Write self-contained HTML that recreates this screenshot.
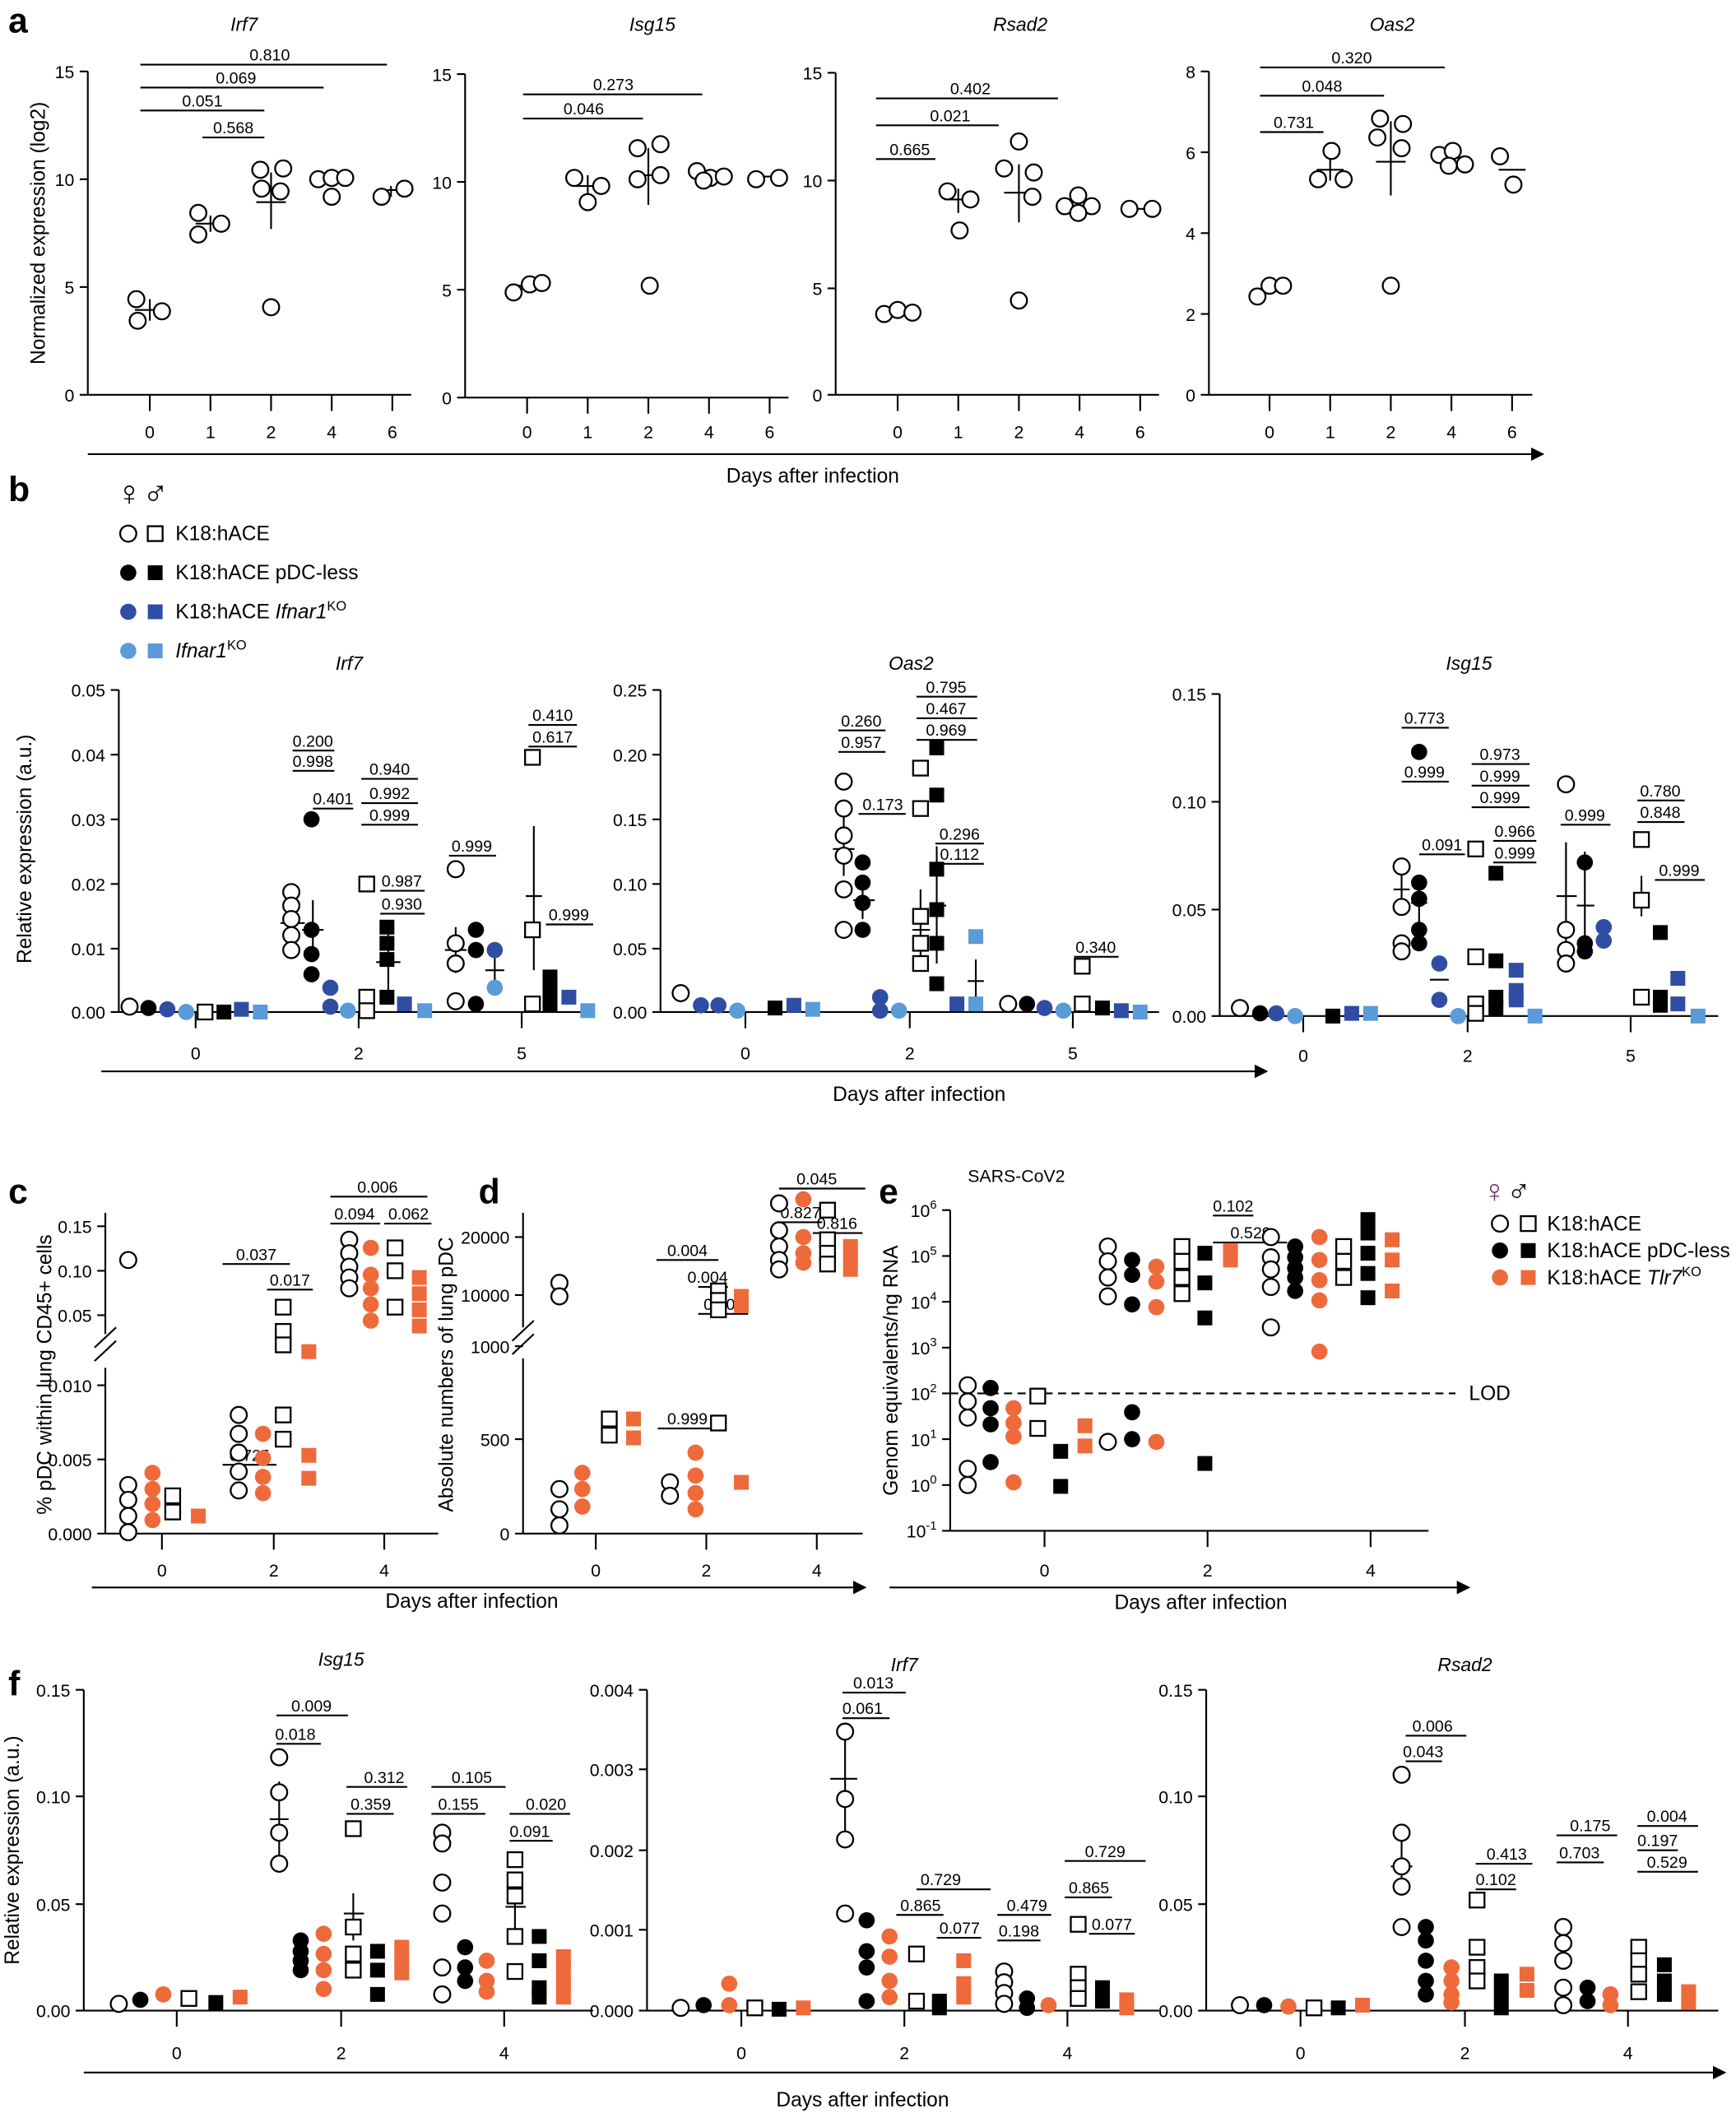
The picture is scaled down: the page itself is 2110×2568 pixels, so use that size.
<!DOCTYPE html>
<html><head><meta charset="utf-8"><style>
html,body{margin:0;padding:0;background:#fff}
svg{display:block}
text{font-family:"Liberation Sans",Arial,sans-serif;fill:#000}
.t{font-size:13px}
.s{font-size:12px}
.it{font-size:14px;font-style:italic}
.lab{font-size:15px}
.big{font-size:26px;font-weight:bold}
</style></head><body>
<svg width="2110" height="2568" viewBox="0 0 1288 1568" xmlns="http://www.w3.org/2000/svg">
<defs>
<circle id="oc" r="6" fill="#fff" stroke="#000" stroke-width="1.4"/>
<circle id="bc" r="6" fill="#000"/>
<circle id="orc" r="6" fill="#ee6a3b"/>
<circle id="dbc" r="6" fill="#2f4ea3"/>
<circle id="lbc" r="6" fill="#5a9bd8"/>
<rect id="os" x="-5.5" y="-5.5" width="11" height="11" fill="#fff" stroke="#000" stroke-width="1.4"/>
<rect id="bs" x="-5.5" y="-5.5" width="11" height="11" fill="#000"/>
<rect id="ors" x="-5.5" y="-5.5" width="11" height="11" fill="#ee6a3b"/>
<rect id="dbs" x="-5.5" y="-5.5" width="11" height="11" fill="#2f4ea3"/>
<rect id="lbs" x="-5.5" y="-5.5" width="11" height="11" fill="#5a9bd8"/>
<marker id="ar" markerWidth="10" markerHeight="10" refX="9" refY="5" orient="auto" markerUnits="userSpaceOnUse"><path d="M0,0 L10,5 L0,10 z" fill="#000"/></marker>
</defs>
<g stroke="#000" stroke-width="1.3" fill="none">
<!-- panel a axes -->
<path d="M65,53V293 M59,53H65 M59,133H65 M59,213H65 M59,293H305 M111,293v12 M156,293v12 M201,293v12 M246,293v12 M291,293v12"/>
<path d="M345,55V295 M339,55H345 M339,135H345 M339,215H345 M339,295H585 M391,295v12 M436,295v12 M481,295v12 M526,295v12 M571,295v12"/>
<path d="M620,54V293 M614,54H620 M614,134H620 M614,214H620 M614,293H860 M666,293v12 M711,293v12 M756,293v12 M801,293v12 M846,293v12"/>
<path d="M897,53V293 M891,53H897 M891,113H897 M891,173H897 M891,233H897 M891,293H1137 M942,293v12 M987,293v12 M1032,293v12 M1077,293v12 M1122,293v12"/>
<path d="M65,337H1145" marker-end="url(#ar)"/>
<!-- sig a -->
<path d="M104,48H287 M104,65H240 M104,82H196 M150,102H196 M388,70H521 M388,88H477 M650,73H785 M650,93H741 M650,118H694 M935,50H1072 M935,71H1027 M935,98H982"/>
<!-- panel b axes -->
<path d="M88,512V751 M82,512H88 M82,560H88 M82,608H88 M82,656H88 M82,704H88 M82,751H440 M145,751v12 M266,751v12 M387,751v12"/>
<path d="M490,512V751 M484,512H490 M484,560H490 M484,608H490 M484,656H490 M484,704H490 M484,751H860 M553,751v12 M675,751v12 M796,751v12"/>
<path d="M905,515V754 M899,515H905 M899,595H905 M899,675H905 M899,754H1275 M967,754v12 M1089,754v12 M1210,754v12"/>
<path d="M75,795H940" marker-end="url(#ar)"/>
<path d="M217,557H248 M217,572H248 M232,600H262 M268,578H310 M268,596H310 M268,612H310 M282,661H315 M282,678H315 M333,635H368 M392,538H428 M392,554H428 M405,686H440"/>
<path d="M622,542H657 M622,558H657 M637,604H672 M680,517H725 M680,533H725 M680,549H725 M694,626H730 M694,641H730 M797,710H830"/>
<path d="M1040,540H1075 M1040,580H1075 M1053,634H1087 M1092,567H1135 M1092,583H1135 M1092,599H1135 M1108,624H1140 M1108,640H1140 M1158,612H1195 M1215,594H1250 M1215,610H1250 M1228,653H1265"/>
<!-- panel c -->
<path d="M78,900V990 M78,1015V1138 M72,910H78 M72,943H78 M72,976H78 M72,1028H78 M72,1083H78 M72,1138H325 M70,1000L86,985 M70,1010L86,995 M120,1138v12 M203,1138v12 M285,1138v12"/>
<path d="M68,1178H642" marker-end="url(#ar)"/>
<path d="M165,938H215 M198,957H232 M165,1087H205 M245,888H317 M245,908H282 M285,908H320"/>
<!-- panel d -->
<path d="M388,900V985 M388,1008V1138 M382,918H388 M382,961H388 M382,999H388 M382,1068H388 M382,1138H640 M380,995L396,980 M380,1005L396,990 M442,1138v12 M524,1138v12 M606,1138v12"/>
<path d="M578,882H642 M487,935H533 M578,907H610 M518,955H540 M518,975H555 M603,915H640 M488,1060H538"/>
<!-- panel e -->
<path d="M705,898V1136 M699,898H705 M699,932H705 M699,966H705 M699,1000H705 M699,1034H705 M699,1068H705 M699,1102H705 M699,1136H1060 M775,1136v12 M896,1136v12 M1017,1136v12"/>
<path d="M660,1178H1090" marker-end="url(#ar)"/>
<path d="M900,902H930 M900,922H955"/>
<path d="M705,1034H1080" stroke-dasharray="6,4"/>
<!-- panel f -->
<path d="M62,1254V1492 M56,1254H62 M56,1333H62 M56,1413H62 M56,1492H440 M131,1492v12 M253,1492v12 M374,1492v12"/>
<path d="M480,1254V1492 M474,1254H480 M474,1313H480 M474,1373H480 M474,1432H480 M474,1492H860 M550,1492v12 M671,1492v12 M792,1492v12"/>
<path d="M895,1254V1492 M889,1254H895 M889,1333H895 M889,1413H895 M889,1492H1275 M965,1492v12 M1087,1492v12 M1208,1492v12"/>
<path d="M62,1538H1280" marker-end="url(#ar)"/>
<path d="M205,1273H258 M205,1294H238 M257,1326H302 M257,1346H292 M320,1326H375 M320,1346H360 M378,1346H423 M378,1366H410"/>
<path d="M625,1256H672 M625,1275H660 M680,1402H735 M665,1421H700 M695,1438H728 M740,1421H780 M740,1440H772 M790,1381H850 M790,1408H825 M808,1435H842"/>
<path d="M1043,1288H1088 M1043,1307H1070 M1095,1383H1137 M1095,1402H1125 M1155,1362H1200 M1155,1382H1190 M1215,1355H1260 M1215,1373H1245 M1215,1389H1260"/>
<!-- mean/error bars -->
<path d="M100,230H122 M111,222V238 M145,166H167 M156,160V172 M190,150H212 M201,128V170 M236,133H256 M280,141H300 M290,138V146"/>
<path d="M381,212H401 M426,138H446 M436,130V146 M470,130H492 M481,110V152 M516,129H536 M561,131H581"/>
<path d="M656,232H676 M701,148H721 M711,140V158 M745,143H767 M756,122V165 M790,150H810 M835,155H855"/>
<path d="M931,215H951 M977,126H997 M987,118V134 M1021,120H1043 M1032,90V145 M1067,117H1087 M1112,126H1132"/>
<path d="M208,685H226 M217,665V705 M224,690H240 M232,668V712 M279,714H297 M288,690V735 M390,665H402 M396,613V720 M330,705H346 M338,688V722 M360,720H374 M367,710V730"/>
<path d="M618,630H634 M626,605V650 M633,668H649 M640,655V682 M677,690H690 M683,660V715 M690,672H702 M695,628V715 M718,728H730 M724,712V745"/>
<path d="M1034,660H1046 M1040,640V675 M1047,670H1059 M1053,650V690 M1061,727H1075 M1212,665H1224 M1218,650V680 M1155,665H1170 M1162,625V705 M1170,672H1183 M1176,632V705"/>
<path d="M200,1350H214 M207,1322V1380 M616,1320H636 M627,1285V1360 M1032,1385H1048 M1040,1362V1400 M255,1420H270 M262,1405V1440 M375,1415H390 M382,1395V1440"/>
</g>
<!-- panel letters -->
<text x="6" y="24" class="big">a</text>
<text x="6" y="372" class="big">b</text>
<text x="6" y="893" class="big">c</text>
<text x="355" y="893" class="big">d</text>
<text x="652" y="893" class="big">e</text>
<text x="6" y="1258" class="big">f</text>
<!-- panel a text -->
<text x="181" y="23" class="it" text-anchor="middle">Irf7</text>
<text x="484" y="23" class="it" text-anchor="middle">Isg15</text>
<text x="757" y="23" class="it" text-anchor="middle">Rsad2</text>
<text x="1033" y="23" class="it" text-anchor="middle">Oas2</text>
<text transform="translate(33,173) rotate(-90)" class="lab" text-anchor="middle">Normalized expression (log2)</text>
<g class="t" text-anchor="end">
<text x="55" y="58">15</text><text x="55" y="138">10</text><text x="55" y="218">5</text><text x="55" y="298">0</text>
<text x="335" y="60">15</text><text x="335" y="140">10</text><text x="335" y="220">5</text><text x="335" y="300">0</text>
<text x="610" y="59">15</text><text x="610" y="139">10</text><text x="610" y="219">5</text><text x="610" y="298">0</text>
<text x="887" y="58">8</text><text x="887" y="118">6</text><text x="887" y="178">4</text><text x="887" y="238">2</text><text x="887" y="298">0</text>
</g>
<g class="t" text-anchor="middle">
<text x="111" y="325">0</text><text x="156" y="325">1</text><text x="201" y="325">2</text><text x="246" y="325">4</text><text x="291" y="325">6</text>
<text x="391" y="325">0</text><text x="436" y="325">1</text><text x="481" y="325">2</text><text x="526" y="325">4</text><text x="571" y="325">6</text>
<text x="666" y="325">0</text><text x="711" y="325">1</text><text x="756" y="325">2</text><text x="801" y="325">4</text><text x="846" y="325">6</text>
<text x="942" y="325">0</text><text x="987" y="325">1</text><text x="1032" y="325">2</text><text x="1077" y="325">4</text><text x="1122" y="325">6</text>
<text x="603" y="358" class="lab">Days after infection</text>
</g>
<g class="s" text-anchor="middle">
<text x="200" y="45">0.810</text><text x="175" y="62">0.069</text><text x="150" y="79">0.051</text><text x="173" y="99">0.568</text>
<text x="455" y="67">0.273</text><text x="433" y="85">0.046</text>
<text x="720" y="70">0.402</text><text x="705" y="90">0.021</text><text x="675" y="115">0.665</text>
<text x="1003" y="47">0.320</text><text x="981" y="68">0.048</text><text x="960" y="95">0.731</text>
</g>
<!-- panel a points -->
<use href="#oc" x="101" y="222"/><use href="#oc" x="102" y="238"/><use href="#oc" x="120" y="231"/>
<use href="#oc" x="147" y="158"/><use href="#oc" x="147" y="174"/><use href="#oc" x="164" y="166"/>
<use href="#oc" x="193" y="126"/><use href="#oc" x="210" y="125"/><use href="#oc" x="208" y="142"/><use href="#oc" x="201" y="228"/><use href="#oc" x="194" y="140"/>
<use href="#oc" x="236" y="133"/><use href="#oc" x="246" y="132"/><use href="#oc" x="256" y="132"/><use href="#oc" x="246" y="146"/>
<use href="#oc" x="283" y="146"/><use href="#oc" x="300" y="140"/>
<use href="#oc" x="381" y="217"/><use href="#oc" x="393" y="211"/><use href="#oc" x="402" y="210"/>
<use href="#oc" x="426" y="132"/><use href="#oc" x="436" y="150"/><use href="#oc" x="446" y="138"/>
<use href="#oc" x="473" y="110"/><use href="#oc" x="490" y="107"/><use href="#oc" x="473" y="133"/><use href="#oc" x="490" y="130"/><use href="#oc" x="482" y="212"/>
<use href="#oc" x="517" y="127"/><use href="#oc" x="527" y="132"/><use href="#oc" x="537" y="131"/><use href="#oc" x="522" y="134"/>
<use href="#oc" x="561" y="133"/><use href="#oc" x="578" y="132"/>
<use href="#oc" x="656" y="233"/><use href="#oc" x="666" y="230"/><use href="#oc" x="677" y="232"/>
<use href="#oc" x="703" y="142"/><use href="#oc" x="712" y="171"/><use href="#oc" x="720" y="148"/>
<use href="#oc" x="745" y="125"/><use href="#oc" x="756" y="105"/><use href="#oc" x="767" y="128"/><use href="#oc" x="766" y="146"/><use href="#oc" x="756" y="223"/>
<use href="#oc" x="790" y="153"/><use href="#oc" x="800" y="145"/><use href="#oc" x="810" y="153"/><use href="#oc" x="800" y="158"/>
<use href="#oc" x="838" y="155"/><use href="#oc" x="855" y="155"/>
<use href="#oc" x="933" y="220"/><use href="#oc" x="942" y="212"/><use href="#oc" x="952" y="212"/>
<use href="#oc" x="978" y="133"/><use href="#oc" x="988" y="112"/><use href="#oc" x="997" y="133"/>
<use href="#oc" x="1024" y="88"/><use href="#oc" x="1041" y="92"/><use href="#oc" x="1022" y="102"/><use href="#oc" x="1040" y="110"/><use href="#oc" x="1032" y="212"/>
<use href="#oc" x="1068" y="115"/><use href="#oc" x="1078" y="112"/><use href="#oc" x="1087" y="122"/><use href="#oc" x="1075" y="123"/>
<use href="#oc" x="1113" y="116"/><use href="#oc" x="1123" y="137"/>
<!-- panel b legend -->
<text x="86" y="375" style="font-size:26px">♀♂</text>
<use href="#oc" x="95" y="396"/><use href="#os" x="115" y="396"/><text x="130" y="401" class="lab">K18:hACE</text>
<use href="#bc" x="95" y="425"/><use href="#bs" x="115" y="425"/><text x="130" y="430" class="lab">K18:hACE pDC-less</text>
<use href="#dbc" x="95" y="454"/><use href="#dbs" x="115" y="454"/><text x="130" y="459" class="lab">K18:hACE <tspan font-style="italic">Ifnar1</tspan><tspan font-size="10" dy="-6">KO</tspan></text>
<use href="#lbc" x="95" y="483"/><use href="#lbs" x="115" y="483"/><text x="130" y="488" class="lab"><tspan font-style="italic">Ifnar1</tspan><tspan font-size="10" dy="-6">KO</tspan></text>
<text x="259" y="497" class="it" text-anchor="middle">Irf7</text>
<text x="676" y="497" class="it" text-anchor="middle">Oas2</text>
<text x="1090" y="497" class="it" text-anchor="middle">Isg15</text>
<text transform="translate(23,630) rotate(-90)" class="lab" text-anchor="middle">Relative expression (a.u.)</text>
<g class="t" text-anchor="end">
<text x="78" y="517">0.05</text><text x="78" y="565">0.04</text><text x="78" y="613">0.03</text><text x="78" y="661">0.02</text><text x="78" y="709">0.01</text><text x="78" y="756">0.00</text>
<text x="480" y="517">0.25</text><text x="480" y="565">0.20</text><text x="480" y="613">0.15</text><text x="480" y="661">0.10</text><text x="480" y="709">0.05</text><text x="480" y="756">0.00</text>
<text x="895" y="520">0.15</text><text x="895" y="600">0.10</text><text x="895" y="680">0.05</text><text x="895" y="759">0.00</text>
</g>
<g class="t" text-anchor="middle">
<text x="145" y="786">0</text><text x="266" y="786">2</text><text x="387" y="786">5</text>
<text x="553" y="786">0</text><text x="675" y="786">2</text><text x="796" y="786">5</text>
<text x="967" y="788">0</text><text x="1089" y="788">2</text><text x="1210" y="788">5</text>
<text x="682" y="817" class="lab">Days after infection</text>
</g>
<g class="s" text-anchor="middle">
<text x="232" y="554">0.200</text><text x="232" y="569">0.998</text><text x="247" y="597">0.401</text><text x="289" y="575">0.940</text><text x="289" y="593">0.992</text><text x="289" y="609">0.999</text><text x="298" y="658">0.987</text><text x="298" y="675">0.930</text><text x="350" y="632">0.999</text><text x="410" y="535">0.410</text><text x="410" y="551">0.617</text><text x="422" y="683">0.999</text>
<text x="639" y="539">0.260</text><text x="639" y="555">0.957</text><text x="655" y="601">0.173</text><text x="702" y="514">0.795</text><text x="702" y="530">0.467</text><text x="702" y="546">0.969</text><text x="712" y="623">0.296</text><text x="712" y="638">0.112</text><text x="813" y="707">0.340</text>
<text x="1057" y="537">0.773</text><text x="1057" y="577">0.999</text><text x="1070" y="631">0.091</text><text x="1113" y="564">0.973</text><text x="1113" y="580">0.999</text><text x="1113" y="596">0.999</text><text x="1124" y="621">0.966</text><text x="1124" y="637">0.999</text><text x="1176" y="609">0.999</text><text x="1232" y="591">0.780</text><text x="1232" y="607">0.848</text><text x="1246" y="650">0.999</text>
</g>
<!-- b1 points -->
<use href="#oc" x="96" y="747"/><use href="#bc" x="110" y="748"/><use href="#dbc" x="124" y="749"/><use href="#lbc" x="138" y="751"/><use href="#os" x="152" y="751"/><use href="#bs" x="166" y="751"/><use href="#dbs" x="179" y="749"/><use href="#lbs" x="193" y="751"/>
<use href="#oc" x="216" y="662"/><use href="#oc" x="216" y="672"/><use href="#oc" x="216" y="682"/><use href="#oc" x="216" y="694"/><use href="#oc" x="216" y="705"/>
<use href="#bc" x="231" y="608"/><use href="#bc" x="231" y="690"/><use href="#bc" x="231" y="708"/><use href="#bc" x="231" y="723"/>
<use href="#dbc" x="245" y="733"/><use href="#dbc" x="245" y="747"/><use href="#lbc" x="258" y="750"/>
<use href="#os" x="272" y="656"/><use href="#os" x="272" y="740"/><use href="#os" x="272" y="750"/>
<use href="#bs" x="287" y="688"/><use href="#bs" x="287" y="700"/><use href="#bs" x="287" y="712"/><use href="#bs" x="287" y="740"/>
<use href="#dbs" x="300" y="745"/><use href="#lbs" x="315" y="750"/>
<use href="#oc" x="338" y="645"/><use href="#oc" x="338" y="700"/><use href="#oc" x="338" y="715"/><use href="#oc" x="338" y="743"/>
<use href="#bc" x="353" y="690"/><use href="#bc" x="353" y="705"/><use href="#bc" x="353" y="745"/>
<use href="#dbc" x="367" y="705"/><use href="#lbc" x="367" y="733"/>
<use href="#os" x="395" y="562"/><use href="#os" x="395" y="690"/><use href="#os" x="395" y="745"/>
<use href="#bs" x="408" y="725"/><use href="#bs" x="408" y="735"/><use href="#bs" x="408" y="745"/>
<use href="#dbs" x="422" y="740"/><use href="#lbs" x="436" y="750"/>
<!-- b2 points -->
<use href="#oc" x="505" y="737"/><use href="#dbc" x="520" y="746"/><use href="#dbc" x="533" y="746"/><use href="#lbc" x="547" y="750"/><use href="#bs" x="575" y="748"/><use href="#dbs" x="589" y="746"/><use href="#lbs" x="603" y="749"/>
<use href="#oc" x="626" y="580"/><use href="#oc" x="626" y="600"/><use href="#oc" x="626" y="620"/><use href="#oc" x="626" y="635"/><use href="#oc" x="626" y="660"/><use href="#oc" x="626" y="690"/>
<use href="#bc" x="640" y="640"/><use href="#bc" x="640" y="655"/><use href="#bc" x="640" y="670"/><use href="#bc" x="640" y="690"/>
<use href="#dbc" x="653" y="740"/><use href="#dbc" x="653" y="750"/><use href="#lbc" x="667" y="750"/>
<use href="#os" x="683" y="570"/><use href="#os" x="683" y="600"/><use href="#os" x="683" y="680"/><use href="#os" x="683" y="700"/><use href="#os" x="683" y="715"/>
<use href="#bs" x="695" y="555"/><use href="#bs" x="695" y="590"/><use href="#bs" x="695" y="645"/><use href="#bs" x="695" y="675"/><use href="#bs" x="695" y="700"/><use href="#bs" x="695" y="730"/>
<use href="#dbs" x="710" y="745"/><use href="#lbs" x="724" y="695"/><use href="#lbs" x="724" y="745"/>
<use href="#oc" x="748" y="745"/><use href="#bc" x="762" y="745"/><use href="#dbc" x="775" y="748"/><use href="#lbc" x="789" y="750"/><use href="#os" x="803" y="717"/><use href="#os" x="803" y="745"/><use href="#bs" x="818" y="748"/><use href="#dbs" x="832" y="750"/><use href="#lbs" x="846" y="751"/>
<!-- b3 points -->
<use href="#oc" x="920" y="748"/><use href="#bc" x="935" y="752"/><use href="#dbc" x="947" y="752"/><use href="#lbc" x="961" y="754"/><use href="#bs" x="989" y="754"/><use href="#dbs" x="1003" y="752"/><use href="#lbs" x="1017" y="752"/>
<use href="#oc" x="1040" y="643"/><use href="#oc" x="1040" y="673"/><use href="#oc" x="1040" y="700"/><use href="#oc" x="1040" y="706"/>
<use href="#bc" x="1053" y="558"/><use href="#bc" x="1053" y="655"/><use href="#bc" x="1053" y="667"/><use href="#bc" x="1053" y="690"/><use href="#bc" x="1053" y="700"/>
<use href="#dbc" x="1068" y="715"/><use href="#dbc" x="1068" y="742"/><use href="#lbc" x="1082" y="754"/>
<use href="#os" x="1095" y="630"/><use href="#os" x="1095" y="710"/><use href="#os" x="1095" y="745"/><use href="#os" x="1095" y="752"/>
<use href="#bs" x="1110" y="648"/><use href="#bs" x="1110" y="713"/><use href="#bs" x="1110" y="740"/><use href="#bs" x="1110" y="748"/>
<use href="#dbs" x="1125" y="720"/><use href="#dbs" x="1125" y="735"/><use href="#dbs" x="1125" y="742"/><use href="#lbs" x="1139" y="754"/>
<use href="#oc" x="1162" y="582"/><use href="#oc" x="1162" y="690"/><use href="#oc" x="1162" y="705"/><use href="#oc" x="1162" y="715"/>
<use href="#bc" x="1176" y="640"/><use href="#bc" x="1176" y="700"/><use href="#bc" x="1176" y="706"/>
<use href="#dbc" x="1190" y="688"/><use href="#dbc" x="1190" y="698"/>
<use href="#os" x="1218" y="623"/><use href="#os" x="1218" y="668"/><use href="#os" x="1218" y="740"/>
<use href="#bs" x="1232" y="692"/><use href="#bs" x="1232" y="740"/><use href="#bs" x="1232" y="746"/>
<use href="#dbs" x="1245" y="726"/><use href="#dbs" x="1245" y="745"/><use href="#lbs" x="1260" y="754"/>
<!-- panel c -->
<text transform="translate(38,1020) rotate(-90)" class="lab" text-anchor="middle">% pDC within lung CD45+ cells</text>
<g class="t" text-anchor="end">
<text x="68" y="915">0.15</text><text x="68" y="948">0.10</text><text x="68" y="981">0.05</text><text x="68" y="1033">0.010</text><text x="68" y="1088">0.005</text><text x="68" y="1143">0.000</text>
<text x="378" y="923">20000</text><text x="378" y="966">10000</text><text x="378" y="1004">1000</text><text x="378" y="1073">500</text><text x="378" y="1143">0</text>
<text x="695" y="903">10<tspan font-size="9" dy="-6">6</tspan></text><text x="695" y="937">10<tspan font-size="9" dy="-6">5</tspan></text><text x="695" y="971">10<tspan font-size="9" dy="-6">4</tspan></text><text x="695" y="1005">10<tspan font-size="9" dy="-6">3</tspan></text><text x="695" y="1039">10<tspan font-size="9" dy="-6">2</tspan></text><text x="695" y="1073">10<tspan font-size="9" dy="-6">1</tspan></text><text x="695" y="1107">10<tspan font-size="9" dy="-6">0</tspan></text><text x="695" y="1141">10<tspan font-size="9" dy="-6">-1</tspan></text>
</g>
<g class="t" text-anchor="middle">
<text x="120" y="1170">0</text><text x="203" y="1170">2</text><text x="285" y="1170">4</text>
<text x="442" y="1170">0</text><text x="524" y="1170">2</text><text x="606" y="1170">4</text>
<text x="775" y="1170">0</text><text x="896" y="1170">2</text><text x="1017" y="1170">4</text>
<text x="350" y="1193" class="lab">Days after infection</text>
<text x="891" y="1194" class="lab">Days after infection</text>
</g>
<g class="s" text-anchor="middle">
<text x="190" y="935">0.037</text><text x="215" y="954">0.017</text><text x="185" y="1084">0.725</text><text x="280" y="885">0.006</text><text x="263" y="905">0.094</text><text x="303" y="905">0.062</text>
<text x="606" y="879">0.045</text><text x="510" y="932">0.004</text><text x="594" y="904">0.827</text><text x="525" y="952">0.004</text><text x="537" y="972">0.307</text><text x="621" y="912">0.816</text><text x="510" y="1057">0.999</text>
<text x="915" y="899">0.102</text><text x="928" y="919">0.529</text>
</g>
<use href="#oc" x="95" y="935"/><use href="#oc" x="95" y="1102"/><use href="#oc" x="95" y="1113"/><use href="#oc" x="95" y="1125"/><use href="#oc" x="95" y="1137"/>
<use href="#orc" x="113" y="1093"/><use href="#orc" x="113" y="1105"/><use href="#orc" x="113" y="1116"/><use href="#orc" x="113" y="1128"/>
<use href="#os" x="128" y="1110"/><use href="#os" x="128" y="1122"/><use href="#ors" x="147" y="1125"/>
<use href="#oc" x="177" y="1050"/><use href="#oc" x="177" y="1064"/><use href="#oc" x="177" y="1078"/><use href="#oc" x="177" y="1092"/><use href="#oc" x="177" y="1106"/>
<use href="#orc" x="195" y="1064"/><use href="#orc" x="195" y="1082"/><use href="#orc" x="195" y="1096"/><use href="#orc" x="195" y="1108"/>
<use href="#os" x="210" y="1050"/><use href="#os" x="210" y="1068"/><use href="#ors" x="229" y="1080"/><use href="#ors" x="229" y="1097"/>
<use href="#os" x="210" y="970"/><use href="#os" x="210" y="988"/><use href="#os" x="210" y="998"/><use href="#ors" x="229" y="1003"/>
<use href="#oc" x="259" y="920"/><use href="#oc" x="259" y="930"/><use href="#oc" x="259" y="940"/><use href="#oc" x="259" y="948"/><use href="#oc" x="259" y="956"/>
<use href="#orc" x="275" y="926"/><use href="#orc" x="275" y="946"/><use href="#orc" x="275" y="956"/><use href="#orc" x="275" y="968"/><use href="#orc" x="275" y="980"/>
<use href="#os" x="293" y="926"/><use href="#os" x="293" y="943"/><use href="#os" x="293" y="970"/>
<use href="#ors" x="311" y="948"/><use href="#ors" x="311" y="960"/><use href="#ors" x="311" y="972"/><use href="#ors" x="311" y="984"/>
<!-- panel d -->
<text transform="translate(336,1020) rotate(-90)" class="lab" text-anchor="middle">Absolute numbers of lung pDC</text>
<use href="#oc" x="415" y="952"/><use href="#oc" x="415" y="962"/><use href="#oc" x="415" y="1105"/><use href="#oc" x="415" y="1120"/><use href="#oc" x="415" y="1132"/>
<use href="#orc" x="432" y="1093"/><use href="#orc" x="432" y="1105"/><use href="#orc" x="432" y="1118"/>
<use href="#os" x="452" y="1053"/><use href="#os" x="452" y="1065"/><use href="#ors" x="470" y="1053"/><use href="#ors" x="470" y="1067"/>
<use href="#oc" x="497" y="1100"/><use href="#oc" x="497" y="1110"/>
<use href="#orc" x="516" y="1078"/><use href="#orc" x="516" y="1095"/><use href="#orc" x="516" y="1108"/><use href="#orc" x="516" y="1120"/>
<use href="#os" x="533" y="1056"/><use href="#ors" x="550" y="1100"/>
<use href="#os" x="533" y="958"/><use href="#os" x="533" y="965"/><use href="#os" x="533" y="972"/><use href="#ors" x="550" y="962"/><use href="#ors" x="550" y="969"/>
<use href="#oc" x="578" y="893"/><use href="#oc" x="578" y="913"/><use href="#oc" x="578" y="925"/><use href="#oc" x="578" y="935"/><use href="#oc" x="578" y="942"/>
<use href="#orc" x="596" y="890"/><use href="#orc" x="596" y="918"/><use href="#orc" x="596" y="930"/><use href="#orc" x="596" y="937"/>
<use href="#os" x="614" y="898"/><use href="#os" x="614" y="920"/><use href="#os" x="614" y="930"/><use href="#os" x="614" y="938"/>
<use href="#ors" x="631" y="925"/><use href="#ors" x="631" y="935"/><use href="#ors" x="631" y="942"/>
<!-- panel e -->
<text x="718" y="877" class="t">SARS-CoV2</text>
<text transform="translate(666,1017) rotate(-90)" class="lab" text-anchor="middle">Genom equivalents/ng RNA</text>
<text x="1090" y="1039" class="lab">LOD</text>
<text x="1100" y="892" style="font-size:24px"><tspan fill="#7a2d6b">♀</tspan>♂</text>
<use href="#oc" x="1113" y="908"/><use href="#os" x="1134" y="908"/><text x="1148" y="913" class="lab">K18:hACE</text>
<use href="#bc" x="1113" y="928"/><use href="#bs" x="1134" y="928"/><text x="1148" y="933" class="lab">K18:hACE pDC-less</text>
<use href="#orc" x="1113" y="948"/><use href="#ors" x="1134" y="948"/><text x="1148" y="953" class="lab">K18:hACE <tspan font-style="italic">Tlr7</tspan><tspan font-size="10" dy="-6">KO</tspan></text>
<use href="#oc" x="718" y="1028"/><use href="#oc" x="718" y="1040"/><use href="#oc" x="718" y="1052"/><use href="#oc" x="718" y="1090"/><use href="#oc" x="718" y="1102"/>
<use href="#bc" x="735" y="1030"/><use href="#bc" x="735" y="1045"/><use href="#bc" x="735" y="1057"/><use href="#bc" x="735" y="1085"/>
<use href="#orc" x="752" y="1045"/><use href="#orc" x="752" y="1056"/><use href="#orc" x="752" y="1066"/><use href="#orc" x="752" y="1100"/>
<use href="#os" x="770" y="1036"/><use href="#os" x="770" y="1060"/><use href="#bs" x="787" y="1077"/><use href="#bs" x="787" y="1103"/><use href="#ors" x="805" y="1058"/><use href="#ors" x="805" y="1073"/>
<use href="#oc" x="822" y="925"/><use href="#oc" x="822" y="936"/><use href="#oc" x="822" y="948"/><use href="#oc" x="822" y="962"/><use href="#oc" x="822" y="1070"/>
<use href="#bc" x="840" y="935"/><use href="#bc" x="840" y="946"/><use href="#bc" x="840" y="968"/><use href="#bc" x="840" y="1048"/><use href="#bc" x="840" y="1068"/>
<use href="#orc" x="858" y="940"/><use href="#orc" x="858" y="951"/><use href="#orc" x="858" y="970"/><use href="#orc" x="858" y="1070"/>
<use href="#os" x="877" y="925"/><use href="#os" x="877" y="936"/><use href="#os" x="877" y="948"/><use href="#os" x="877" y="960"/>
<use href="#bs" x="894" y="930"/><use href="#bs" x="894" y="952"/><use href="#bs" x="894" y="978"/><use href="#bs" x="894" y="1086"/>
<use href="#ors" x="913" y="928"/><use href="#ors" x="913" y="935"/>
<use href="#oc" x="943" y="918"/><use href="#oc" x="943" y="933"/><use href="#oc" x="943" y="942"/><use href="#oc" x="943" y="955"/><use href="#oc" x="943" y="985"/>
<use href="#bc" x="961" y="925"/><use href="#bc" x="961" y="933"/><use href="#bc" x="961" y="941"/><use href="#bc" x="961" y="948"/><use href="#bc" x="961" y="958"/>
<use href="#orc" x="979" y="918"/><use href="#orc" x="979" y="935"/><use href="#orc" x="979" y="950"/><use href="#orc" x="979" y="965"/><use href="#orc" x="979" y="1003"/>
<use href="#os" x="997" y="925"/><use href="#os" x="997" y="936"/><use href="#os" x="997" y="948"/>
<use href="#bs" x="1015" y="905"/><use href="#bs" x="1015" y="915"/><use href="#bs" x="1015" y="930"/><use href="#bs" x="1015" y="945"/><use href="#bs" x="1015" y="963"/>
<use href="#ors" x="1033" y="920"/><use href="#ors" x="1033" y="935"/><use href="#ors" x="1033" y="958"/>
<!-- panel f -->
<text x="253" y="1236" class="it" text-anchor="middle">Isg15</text>
<text x="671" y="1240" class="it" text-anchor="middle">Irf7</text>
<text x="1087" y="1240" class="it" text-anchor="middle">Rsad2</text>
<text transform="translate(14,1373) rotate(-90)" class="lab" text-anchor="middle">Relative expression (a.u.)</text>
<g class="t" text-anchor="end">
<text x="52" y="1259">0.15</text><text x="52" y="1338">0.10</text><text x="52" y="1418">0.05</text><text x="52" y="1497">0.00</text>
<text x="470" y="1259">0.004</text><text x="470" y="1318">0.003</text><text x="470" y="1378">0.002</text><text x="470" y="1437">0.001</text><text x="470" y="1497">0.000</text>
<text x="885" y="1259">0.15</text><text x="885" y="1338">0.10</text><text x="885" y="1418">0.05</text><text x="885" y="1497">0.00</text>
</g>
<g class="t" text-anchor="middle">
<text x="131" y="1528">0</text><text x="253" y="1528">2</text><text x="374" y="1528">4</text>
<text x="550" y="1528">0</text><text x="671" y="1528">2</text><text x="792" y="1528">4</text>
<text x="965" y="1528">0</text><text x="1087" y="1528">2</text><text x="1208" y="1528">4</text>
<text x="640" y="1563" class="lab">Days after infection</text>
</g>
<g class="s" text-anchor="middle">
<text x="231" y="1270">0.009</text><text x="219" y="1291">0.018</text><text x="285" y="1323">0.312</text><text x="275" y="1343">0.359</text><text x="350" y="1323">0.105</text><text x="340" y="1343">0.155</text><text x="405" y="1343">0.020</text><text x="393" y="1363">0.091</text>
<text x="648" y="1253">0.013</text><text x="640" y="1272">0.061</text><text x="698" y="1399">0.729</text><text x="683" y="1418">0.865</text><text x="712" y="1435">0.077</text><text x="762" y="1418">0.479</text><text x="756" y="1437">0.198</text><text x="820" y="1378">0.729</text><text x="808" y="1405">0.865</text><text x="825" y="1432">0.077</text>
<text x="1063" y="1285">0.006</text><text x="1056" y="1304">0.043</text><text x="1118" y="1380">0.413</text><text x="1110" y="1399">0.102</text><text x="1180" y="1359">0.175</text><text x="1172" y="1379">0.703</text><text x="1237" y="1352">0.004</text><text x="1230" y="1370">0.197</text><text x="1237" y="1386">0.529</text>
</g>
<!-- f1 -->
<use href="#oc" x="88" y="1487"/><use href="#bc" x="104" y="1484"/><use href="#orc" x="121" y="1480"/><use href="#os" x="140" y="1483"/><use href="#bs" x="160" y="1486"/><use href="#ors" x="178" y="1482"/>
<use href="#oc" x="207" y="1304"/><use href="#oc" x="207" y="1330"/><use href="#oc" x="207" y="1360"/><use href="#oc" x="207" y="1383"/>
<use href="#bc" x="223" y="1440"/><use href="#bc" x="223" y="1448"/><use href="#bc" x="223" y="1455"/><use href="#bc" x="223" y="1462"/>
<use href="#orc" x="240" y="1435"/><use href="#orc" x="240" y="1450"/><use href="#orc" x="240" y="1462"/><use href="#orc" x="240" y="1476"/>
<use href="#os" x="262" y="1357"/><use href="#os" x="262" y="1430"/><use href="#os" x="262" y="1450"/><use href="#os" x="262" y="1462"/>
<use href="#bs" x="280" y="1448"/><use href="#bs" x="280" y="1462"/><use href="#bs" x="280" y="1480"/>
<use href="#ors" x="298" y="1445"/><use href="#ors" x="298" y="1455"/><use href="#ors" x="298" y="1464"/>
<use href="#oc" x="328" y="1360"/><use href="#oc" x="328" y="1368"/><use href="#oc" x="328" y="1397"/><use href="#oc" x="328" y="1420"/><use href="#oc" x="328" y="1460"/><use href="#oc" x="328" y="1480"/>
<use href="#bc" x="345" y="1445"/><use href="#bc" x="345" y="1460"/><use href="#bc" x="345" y="1470"/>
<use href="#orc" x="361" y="1455"/><use href="#orc" x="361" y="1470"/><use href="#orc" x="361" y="1478"/>
<use href="#os" x="382" y="1380"/><use href="#os" x="382" y="1395"/><use href="#os" x="382" y="1407"/><use href="#os" x="382" y="1437"/><use href="#os" x="382" y="1463"/>
<use href="#bs" x="400" y="1437"/><use href="#bs" x="400" y="1455"/><use href="#bs" x="400" y="1475"/><use href="#bs" x="400" y="1482"/>
<use href="#ors" x="418" y="1452"/><use href="#ors" x="418" y="1462"/><use href="#ors" x="418" y="1472"/><use href="#ors" x="418" y="1482"/>
<!-- f2 -->
<use href="#oc" x="505" y="1490"/><use href="#bc" x="522" y="1488"/><use href="#orc" x="541" y="1472"/><use href="#orc" x="541" y="1488"/><use href="#os" x="560" y="1490"/><use href="#bs" x="578" y="1491"/><use href="#ors" x="596" y="1490"/>
<use href="#oc" x="627" y="1285"/><use href="#oc" x="627" y="1335"/><use href="#oc" x="627" y="1365"/><use href="#oc" x="627" y="1420"/>
<use href="#bc" x="643" y="1425"/><use href="#bc" x="643" y="1448"/><use href="#bc" x="643" y="1460"/><use href="#bc" x="643" y="1485"/>
<use href="#orc" x="660" y="1437"/><use href="#orc" x="660" y="1452"/><use href="#orc" x="660" y="1470"/><use href="#orc" x="660" y="1482"/>
<use href="#os" x="680" y="1450"/><use href="#os" x="680" y="1485"/><use href="#bs" x="697" y="1485"/><use href="#bs" x="697" y="1490"/>
<use href="#ors" x="715" y="1455"/><use href="#ors" x="715" y="1472"/><use href="#ors" x="715" y="1482"/>
<use href="#oc" x="745" y="1463"/><use href="#oc" x="745" y="1471"/><use href="#oc" x="745" y="1479"/><use href="#oc" x="745" y="1487"/>
<use href="#bc" x="762" y="1483"/><use href="#bc" x="762" y="1490"/><use href="#orc" x="778" y="1488"/>
<use href="#os" x="800" y="1428"/><use href="#os" x="800" y="1465"/><use href="#os" x="800" y="1475"/><use href="#os" x="800" y="1483"/>
<use href="#bs" x="818" y="1475"/><use href="#bs" x="818" y="1485"/><use href="#ors" x="836" y="1484"/><use href="#ors" x="836" y="1490"/>
<!-- f3 -->
<use href="#oc" x="920" y="1488"/><use href="#bc" x="938" y="1488"/><use href="#orc" x="956" y="1489"/><use href="#os" x="975" y="1490"/><use href="#bs" x="993" y="1490"/><use href="#ors" x="1011" y="1488"/>
<use href="#oc" x="1040" y="1317"/><use href="#oc" x="1040" y="1360"/><use href="#oc" x="1040" y="1385"/><use href="#oc" x="1040" y="1400"/><use href="#oc" x="1040" y="1430"/>
<use href="#bc" x="1058" y="1430"/><use href="#bc" x="1058" y="1440"/><use href="#bc" x="1058" y="1455"/><use href="#bc" x="1058" y="1470"/><use href="#bc" x="1058" y="1480"/>
<use href="#orc" x="1077" y="1460"/><use href="#orc" x="1077" y="1470"/><use href="#orc" x="1077" y="1480"/><use href="#orc" x="1077" y="1486"/>
<use href="#os" x="1096" y="1410"/><use href="#os" x="1096" y="1445"/><use href="#os" x="1096" y="1460"/><use href="#os" x="1096" y="1470"/>
<use href="#bs" x="1114" y="1470"/><use href="#bs" x="1114" y="1480"/><use href="#bs" x="1114" y="1490"/>
<use href="#ors" x="1133" y="1465"/><use href="#ors" x="1133" y="1477"/>
<use href="#oc" x="1160" y="1430"/><use href="#oc" x="1160" y="1442"/><use href="#oc" x="1160" y="1455"/><use href="#oc" x="1160" y="1475"/><use href="#oc" x="1160" y="1488"/>
<use href="#bc" x="1178" y="1475"/><use href="#bc" x="1178" y="1485"/><use href="#orc" x="1195" y="1480"/><use href="#orc" x="1195" y="1488"/>
<use href="#os" x="1216" y="1445"/><use href="#os" x="1216" y="1455"/><use href="#os" x="1216" y="1465"/><use href="#os" x="1216" y="1478"/>
<use href="#bs" x="1235" y="1458"/><use href="#bs" x="1235" y="1470"/><use href="#bs" x="1235" y="1480"/>
<use href="#ors" x="1253" y="1478"/><use href="#ors" x="1253" y="1486"/>
</svg>
</body></html>
